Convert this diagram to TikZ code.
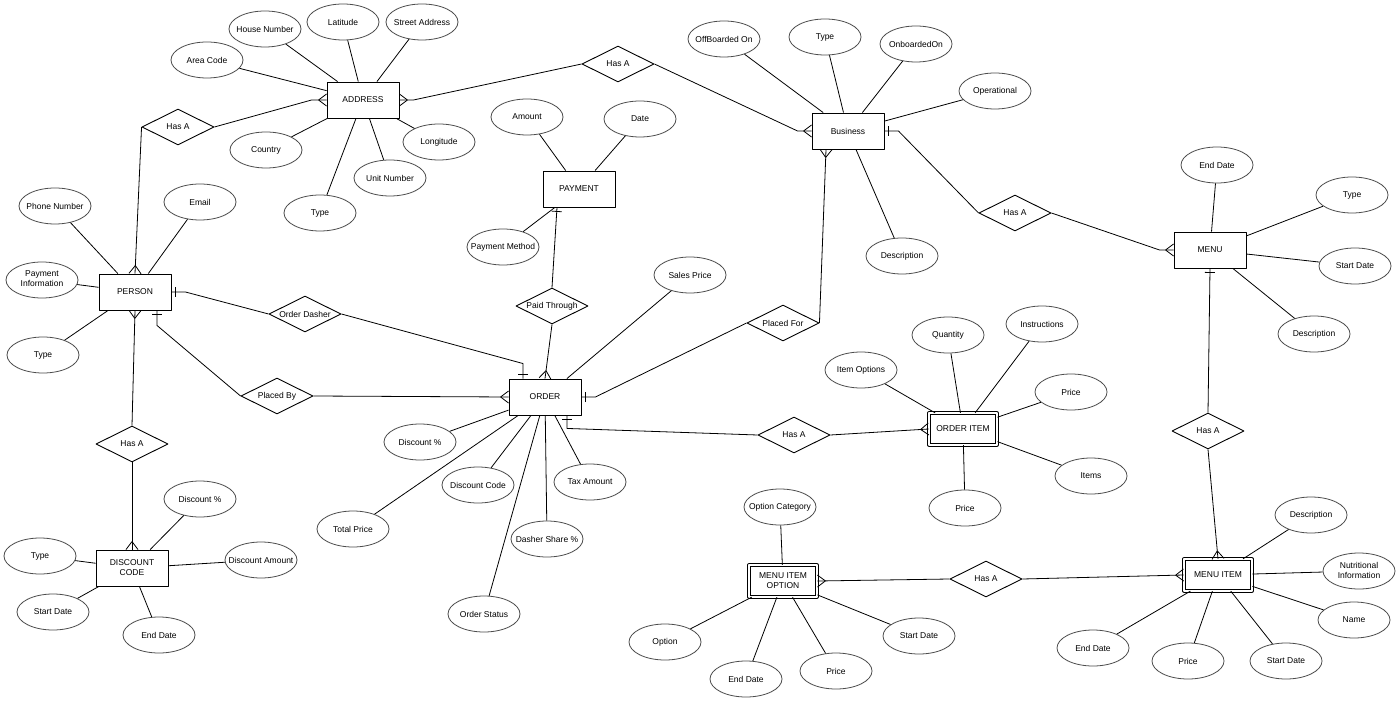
\documentclass[tikz,border=0pt]{standalone}
\usepackage{fontspec}
\setmainfont{Liberation Sans}
\usetikzlibrary{shapes.geometric,decorations.markings}
\newcommand{\erAttr}[1]{\makebox[0pt][c]{#1}}
\newcommand{\erAttrTwo}[2]{\makebox[0pt][c]{\begin{tabular}{@{}c@{}}#1\\#2\end{tabular}}}
\tikzset{
  entity/.style={draw, rectangle, minimum width=72pt, minimum height=36pt, inner sep=1pt, align=center, line width=0.9pt},
  weakentity/.style={entity, double, double distance=2pt, line width=0.8pt, minimum width=68pt, minimum height=31.5pt},
  relation/.style={draw, diamond, aspect=2, minimum width=72pt, minimum height=36pt, inner sep=0pt, line width=0.9pt},
  attr/.style={draw=black!70, ellipse, minimum width=72pt, minimum height=36pt, inner sep=0pt, line width=0.8pt},
  link/.style={line width=0.8pt},
  many at start/.style={postaction={decorate, decoration={markings, mark=at position 0 with {\draw (8pt,0) -- (0,6pt) (8pt,0) -- (0,-6pt);}}}},
  one at start/.style={postaction={decorate, decoration={markings, mark=at position 0 with {\draw (4pt,-5pt) -- (4pt,5pt);}}}}
}

\begin{document}
\begin{tikzpicture}[x=1pt,y=-1pt, font=\fontsize{8.5}{10}\selectfont, line join=round]
\useasboundingbox[fill=white] (0,0) rectangle (1400,703);
\node[entity] (address) at (363,100) {ADDRESS};
\node[entity] (business) at (848,131) {Business};
\node[entity] (payment) at (579,189) {PAYMENT};
\node[entity] (person) at (135,292) {PERSON};
\node[entity] (order) at (545,397) {ORDER};
\node[weakentity] (orderitem) at (963,429) {ORDER ITEM};
\node[entity] (menu) at (1210,250) {MENU};
\node[entity] (discount) at (132,568) {DISCOUNT\\CODE};
\node[weakentity] (itemoption) at (783,581) {MENU ITEM\\OPTION};
\node[weakentity] (menuitem) at (1218,575) {MENU ITEM};
\node[relation] (hasaddr) at (178,127) {Has A};
\node[relation] (hasbiz) at (618,64) {Has A};
\node[relation] (hasmenu) at (1015,213) {Has A};
\node[relation] (dasher) at (305,314) {Order Dasher};
\node[relation] (placedby) at (277,396) {Placed By};
\node[relation] (paid) at (552,306) {Paid Through};
\node[relation] (placedfor) at (783,323) {Placed For};
\node[relation] (hasorderitem) at (794,435) {Has A};
\node[relation] (hasdiscount) at (132,444) {Has A};
\node[relation] (hasmenuitem) at (1208,431) {Has A};
\node[relation] (hasoption) at (986,579) {Has A};
\node[attr] (aHouse) at (265,29) {\erAttr{House Number}};
\node[attr] (aLat) at (343,22) {\erAttr{Latitude}};
\node[attr] (aStreet) at (422,22) {\erAttr{Street Address}};
\node[attr] (aArea) at (207,60) {\erAttr{Area Code}};
\node[attr] (aCountry) at (266,150) {\erAttr{Country}};
\node[attr] (aType) at (320,213) {\erAttr{Type}};
\node[attr] (aUnit) at (390,178) {\erAttr{Unit Number}};
\node[attr] (aLong) at (439,142) {\erAttr{Longitude}};
\node[attr] (bOff) at (724,39) {\erAttr{OffBoarded On}};
\node[attr] (bType) at (825,37) {\erAttr{Type}};
\node[attr] (bOn) at (916,44) {\erAttr{OnboardedOn}};
\node[attr] (bOper) at (995,91) {\erAttr{Operational}};
\node[attr] (bDesc) at (902,256) {\erAttr{Description}};
\node[attr] (pAmount) at (527,117) {\erAttr{Amount}};
\node[attr] (pDate) at (640,119) {\erAttr{Date}};
\node[attr] (pMethod) at (503,247) {\erAttr{Payment Method}};
\node[attr] (rPhone) at (55,206) {\erAttr{Phone Number}};
\node[attr] (rEmail) at (200,202) {\erAttr{Email}};
\node[attr] (rPay) at (42,280) {\erAttrTwo{Payment}{Information}};
\node[attr] (rType) at (43,355) {\erAttr{Type}};
\node[attr] (oSales) at (690,275) {\erAttr{Sales Price}};
\node[attr] (oDisc) at (420,442) {\erAttr{Discount \%}};
\node[attr] (oCode) at (478,485) {\erAttr{Discount Code}};
\node[attr] (oTotal) at (353,529) {\erAttr{Total Price}};
\node[attr] (oShare) at (547,539) {\erAttr{Dasher Share \%}};
\node[attr] (oTax) at (590,482) {\erAttr{Tax Amount}};
\node[attr] (oStatus) at (484,614) {\erAttr{Order Status}};
\node[attr] (iOpt) at (861,370) {\erAttr{Item Options}};
\node[attr] (iQty) at (948,335) {\erAttr{Quantity}};
\node[attr] (iInstr) at (1042,324) {\erAttr{Instructions}};
\node[attr] (iPrice) at (1071,392) {\erAttr{Price}};
\node[attr] (iItems) at (1091,476) {\erAttr{Items}};
\node[attr] (iPriceB) at (965,508) {\erAttr{Price}};
\node[attr] (mEnd) at (1217,165) {\erAttr{End Date}};
\node[attr] (mType) at (1352,195) {\erAttr{Type}};
\node[attr] (mStart) at (1355,266) {\erAttr{Start Date}};
\node[attr] (mDesc) at (1314,334) {\erAttr{Description}};
\node[attr] (dDisc) at (200,499) {\erAttr{Discount \%}};
\node[attr] (dType) at (40,556) {\erAttr{Type}};
\node[attr] (dAmount) at (261,560) {\erAttr{Discount Amount}};
\node[attr] (dStart) at (53,612) {\erAttr{Start Date}};
\node[attr] (dEnd) at (159,635) {\erAttr{End Date}};
\node[attr] (tCat) at (780,507) {\erAttr{Option Category}};
\node[attr] (tOption) at (665,642) {\erAttr{Option}};
\node[attr] (tEnd) at (746,679) {\erAttr{End Date}};
\node[attr] (tPrice) at (836,671) {\erAttr{Price}};
\node[attr] (tStart) at (919,636) {\erAttr{Start Date}};
\node[attr] (uDesc) at (1311,515) {\erAttr{Description}};
\node[attr] (uNutri) at (1359,571) {\erAttrTwo{Nutritional}{Information}};
\node[attr] (uName) at (1354,620) {\erAttr{Name}};
\node[attr] (uEnd) at (1093,648) {\erAttr{End Date}};
\node[attr] (uPrice) at (1188,661) {\erAttr{Price}};
\node[attr] (uStart) at (1286,661) {\erAttr{Start Date}};
\draw[link] (aHouse) -- (address);
\draw[link] (aLat) -- (address);
\draw[link] (aStreet) -- (address);
\draw[link] (aArea) -- (address);
\draw[link] (aCountry) -- (address);
\draw[link] (aType) -- (address);
\draw[link] (aUnit) -- (address);
\draw[link] (aLong) -- (address);
\draw[link] (bOff) -- (business);
\draw[link] (bType) -- (business);
\draw[link] (bOn) -- (business);
\draw[link] (bOper) -- (business);
\draw[link] (bDesc) -- (business);
\draw[link] (pAmount) -- (payment);
\draw[link] (pDate) -- (payment);
\draw[link] (pMethod) -- (payment);
\draw[link] (rPhone) -- (person);
\draw[link] (rEmail) -- (person);
\draw[link] (rPay) -- (person);
\draw[link] (rType) -- (person);
\draw[link] (oSales) -- (order);
\draw[link] (oDisc) -- (order);
\draw[link] (oCode) -- (order);
\draw[link] (oTotal) -- (order);
\draw[link] (oShare) -- (order);
\draw[link] (oTax) -- (order);
\draw[link] (oStatus) -- (order);
\draw[link] (iOpt) -- (orderitem);
\draw[link] (iQty) -- (orderitem);
\draw[link] (iInstr) -- (orderitem);
\draw[link] (iPrice) -- (orderitem);
\draw[link] (iItems) -- (orderitem);
\draw[link] (iPriceB) -- (orderitem);
\draw[link] (mEnd) -- (menu);
\draw[link] (mType) -- (menu);
\draw[link] (mStart) -- (menu);
\draw[link] (mDesc) -- (menu);
\draw[link] (dDisc) -- (discount);
\draw[link] (dType) -- (discount);
\draw[link] (dAmount) -- (discount);
\draw[link] (dStart) -- (discount);
\draw[link] (dEnd) -- (discount);
\draw[link] (tCat) -- (itemoption);
\draw[link] (tOption) -- (itemoption);
\draw[link] (tEnd) -- (itemoption);
\draw[link] (tPrice) -- (itemoption);
\draw[link] (tStart) -- (itemoption);
\draw[link] (uDesc) -- (menuitem);
\draw[link] (uNutri) -- (menuitem);
\draw[link] (uName) -- (menuitem);
\draw[link] (uEnd) -- (menuitem);
\draw[link] (uPrice) -- (menuitem);
\draw[link] (uStart) -- (menuitem);
\draw[link, many at start] (address.west) -- ++(-15,0) -- (hasaddr.east);
\draw[link, many at start] (person.north) -- (hasaddr.west);
\draw[link, many at start] (address.east) -- ++(14,0) -- (hasbiz.west);
\draw[link, many at start] (business.west) -- ++(-14,0) -- (hasbiz.east);
\draw[link, many at start] ([xshift=-22pt]business.south) -- (placedfor.east);
\draw[link, one at start] (order.east) -- ++(14,0) -- (placedfor.west);
\draw[link, one at start] (business.east) -- ++(14,0) -- (hasmenu.west);
\draw[link, many at start] (menu.west) -- ++(-14,0) -- (hasmenu.east);
\draw[link, one at start] (menu.south) -- (hasmenuitem.north);
\draw[link, many at start] (menuitem.north) -- (hasmenuitem.south);
\draw[link, many at start] (menuitem.west) -- (hasoption.east);
\draw[link, many at start] (itemoption.east) -- (hasoption.west);
\draw[link, one at start] ([xshift=22pt]order.south) -- ++(0,13) -- (hasorderitem.west);
\draw[link, many at start] (orderitem.west) -- (hasorderitem.east);
\draw[link, one at start] ([xshift=-22pt]payment.south) -- (paid.north);
\draw[link, many at start] (order.north) -- (paid.south);
\draw[link, one at start] (person.east) -- ++(14,0) -- (dasher.west);
\draw[link, one at start] ([xshift=-22pt]order.north) -- ++(0,-15) -- (dasher.east);
\draw[link, one at start] ([xshift=22pt]person.south) -- ++(0,15) -- (placedby.west);
\draw[link, many at start] (order.west) -- (placedby.east);
\draw[link, many at start] (person.south) -- (hasdiscount.north);
\draw[link, many at start] (discount.north) -- (hasdiscount.south);
\end{tikzpicture}
\end{document}
